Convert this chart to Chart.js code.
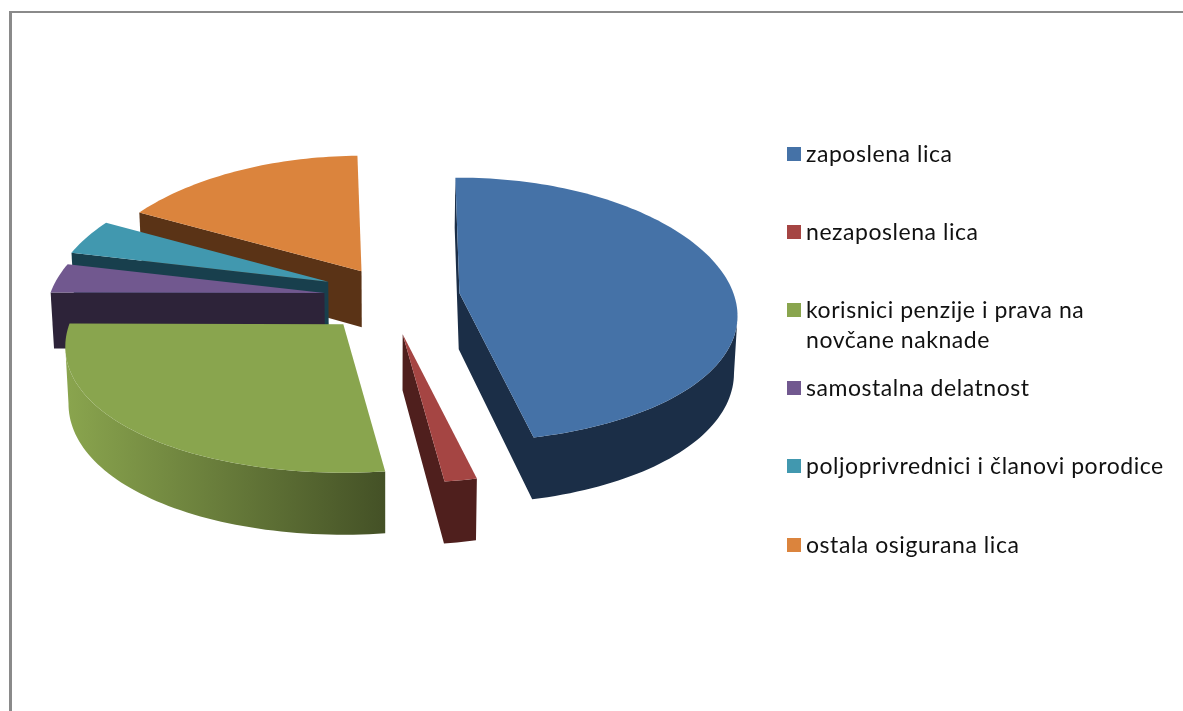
<!DOCTYPE html>
<html><head><meta charset="utf-8">
<style>
html,body{margin:0;padding:0;background:#fff;overflow:hidden}
#wrap{position:relative;width:1183px;height:711px}
canvas{position:absolute;left:0;top:0}
#frame{position:absolute;left:9px;top:11px;right:0;bottom:0;border-left:3px solid #8a8a8a;border-top:2px solid #8a8a8a;pointer-events:none}
</style>
<script src="https://cdn.jsdelivr.net/npm/chart.js@4"></script>
</head><body><div id="wrap"><canvas id="c" width="1183" height="711"></canvas><div id="frame"></div></div>
<script>
const categories = [
  ["zaposlena lica"],
  ["nezaposlena lica"],
  ["korisnici penzije i prava na", "novčane naknade"],
  ["samostalna delatnost"],
  ["poljoprivrednici i članovi porodice"],
  ["ostala osigurana lica"]
];
const shares = [46.65, 1.6, 27.1, 3.6, 4.3, 16.75];
const explode = [73, 83, 75, 62, 64, 57];
const nudgeX = [0, 1, 6, -1, 1, 4];
const nudgeY = [3, 1, 3, 2, -2, 0];
const topColors = ["#4572a7", "#a54543", "#89a54e", "#71588f", "#4198af", "#db843d"];
const sideColors = ["#1b2e47", "#4f1f1d", "#8aa54e", "#2d2339", "#183f4d", "#5a3316"];
const sideColorsEnd = ["#1b2e47", "#4f1f1d", "#445126", "#2d2339", "#183f4d", "#5a3316"];
const drawOrder = [5, 4, 3, 2, 1, 0];

const RX = 274, RY = 130, PERSP = 0.125, PERSP_X = 0.17, SQUASH = 0.475, DEPTH = 56, DEPTH_F = 6, VANISH = 0.99;

const pie3d = {
  id: 'pie3d',
  beforeDatasetsDraw(chart) {
    const ctx = chart.ctx;
    const arcs = chart.getDatasetMeta(0).data;
    drawOrder.forEach(i => {
      const a = arcs[i];
      const mid = (a.startAngle + a.endAngle) / 2;
      const off = a.options.offset;
      const ax = a.x + off * Math.cos(mid) + nudgeX[i];
      const ay = a.y + off * Math.sin(mid) * SQUASH + nudgeY[i];
      const proj = (r, t) => {
        const u = r * Math.cos(t), v = r * Math.sin(t);
        return [ax + RX * u / (1 - PERSP_X * v), ay + RY * v / (1 - PERSP * v), v];
      };
      const low = p => [a.x + (p[0] - a.x) * VANISH, p[1] + DEPTH + DEPTH_F * p[2]];
      const pts = [proj(0, 0)];
      const n = Math.max(4, Math.ceil((a.endAngle - a.startAngle) * 40));
      for (let k = 0; k <= n; k++) pts.push(proj(1, a.startAngle + (a.endAngle - a.startAngle) * k / n));
      // walls: only the edges that face the viewer, one polygon per connected run
      const xs = pts.map(p => p[0]);
      const g = ctx.createLinearGradient(Math.min(...xs), 0, Math.max(...xs), 0);
      g.addColorStop(0, sideColors[i]);
      g.addColorStop(1, sideColorsEnd[i]);
      ctx.fillStyle = g;
      const m = pts.length;
      let first = 0;
      for (let k = 0; k < m; k++) {
        const vis = pts[(k + 1) % m][0] < pts[k][0];
        const prevVis = pts[k][0] < pts[(k + m - 1) % m][0];
        if (!vis && prevVis) { first = k; break; }
      }
      let run = [];
      const flush = () => {
        if (run.length > 1) {
          ctx.beginPath();
          run.forEach((p, j) => j ? ctx.lineTo(p[0], p[1]) : ctx.moveTo(p[0], p[1]));
          run.slice().reverse().forEach(p => { const l = low(p); ctx.lineTo(l[0], l[1]); });
          ctx.closePath();
          ctx.fill();
        }
        run = [];
      };
      for (let c = 0; c < m; c++) {
        const k = (first + c) % m, p = pts[k], q = pts[(k + 1) % m];
        if (q[0] < p[0]) {
          if (!run.length) run.push(p);
          run.push(q);
        } else flush();
      }
      flush();
      // top face
      ctx.beginPath();
      pts.forEach((p, k) => k ? ctx.lineTo(p[0], p[1]) : ctx.moveTo(p[0], p[1]));
      ctx.closePath();
      ctx.fillStyle = a.options.backgroundColor;
      ctx.fill();
    });
    return false;
  },
  afterDraw(chart) {
    const ctx = chart.ctx;
    ctx.save();
    ctx.font = '23px Lato, "Open Sans", sans-serif';
    ctx.letterSpacing = '0.55px';
    ctx.textBaseline = 'alphabetic';
    ctx.textAlign = 'left';
    chart.data.labels.forEach((lines, i) => {
      const cy = 153.5 + i * 78.2;
      ctx.fillStyle = chart.data.datasets[0].backgroundColor[i];
      ctx.fillRect(787, Math.round(cy - 7), 14, 14);
      ctx.fillStyle = '#111';
      lines.forEach((t, j) => ctx.fillText(t, 806, cy + 8 + j * 30));
    });
    ctx.restore();
  }
};

new Chart(document.getElementById('c'), {
  type: 'pie',
  data: {
    labels: categories,
    datasets: [{ data: shares, backgroundColor: topColors, offset: explode, borderWidth: 0 }]
  },
  options: {
    responsive: false,
    animation: false,
    rotation: -1,
    layout: { padding: { left: 0, top: 0, right: 409, bottom: 122 } },
    plugins: { legend: { display: false }, tooltip: { enabled: false } }
  },
  plugins: [pie3d]
});
</script></body></html>
